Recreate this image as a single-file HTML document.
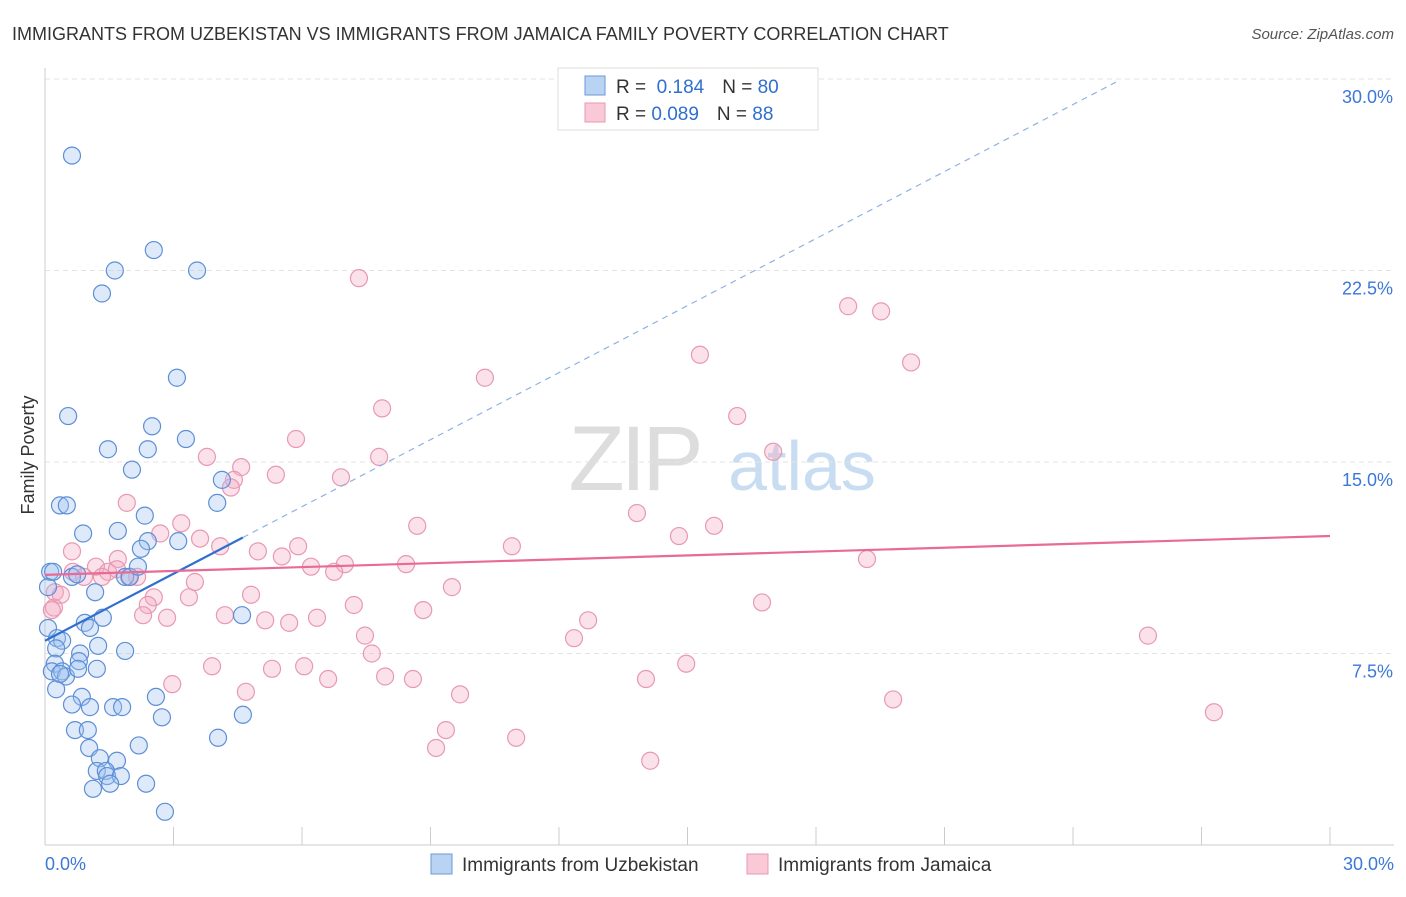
<!DOCTYPE html>
<html><head><meta charset="utf-8">
<style>
body{margin:0;background:#fff;font-family:"Liberation Sans",sans-serif;}
svg text{font-family:"Liberation Sans",sans-serif;}
</style></head>
<body>
<svg id="chart" width="1406" height="892" viewBox="0 0 1406 892" xmlns="http://www.w3.org/2000/svg">
<text x="12" y="40" font-size="18" fill="#333">IMMIGRANTS FROM UZBEKISTAN VS IMMIGRANTS FROM JAMAICA FAMILY POVERTY CORRELATION CHART</text>
<text x="1394" y="39" font-size="15" fill="#555" text-anchor="end" font-style="italic">Source: ZipAtlas.com</text>
<text x="34" y="455" font-size="18" fill="#333" text-anchor="middle" transform="rotate(-90 34 455)">Family Poverty</text>
<g>
<text x="634" y="490" font-size="92" fill="#ddd" text-anchor="middle" font-family="Liberation Serif" letter-spacing="-4">ZIP</text>
<text x="802" y="490" font-size="70" fill="#c8dcf2" text-anchor="middle">atlas</text>
</g>
<g id="grid"></g>
<g id="axes"></g>
<g id="marks"></g>
<g>
<rect x="558" y="68" width="260" height="62" fill="#fff" stroke="#ddd"/>
<rect x="585" y="76" width="20" height="19" fill="#b9d3f3" stroke="#6a9ad8"/>
<rect x="585" y="103" width="20" height="19" fill="#f9c9d7" stroke="#e899b2"/>
<text x="616" y="93" font-size="19" fill="#333">R = <tspan fill="#2f6fd0">&#160;0.184</tspan><tspan dx="18">N = </tspan><tspan fill="#2f6fd0">80</tspan></text>
<text x="616" y="120" font-size="19" fill="#333">R = <tspan fill="#2f6fd0">0.089</tspan><tspan dx="18">N = </tspan><tspan fill="#2f6fd0">88</tspan></text>
</g>
<g>
<rect x="431" y="854" width="21" height="20" fill="#b9d3f3" stroke="#6a9ad8"/>
<text x="462" y="871" font-size="19" fill="#333">Immigrants from Uzbekistan</text>
<rect x="747" y="854" width="21" height="20" fill="#f9c9d7" stroke="#e899b2"/>
<text x="778" y="871" font-size="19" fill="#333">Immigrants from Jamaica</text>
</g>
</svg>
<script>
const blueX=[0.63,2.54,1.63,3.55,1.33,3.08,0.54,2.50,1.47,2.40,3.29,2.03,4.13,4.02,0.35,0.51,2.33,0.89,1.70,2.40,2.24,3.11,0.12,0.63,0.75,1.87,1.98,2.17,1.17,0.07,1.35,0.93,1.05,4.60,0.07,0.28,0.40,1.24,0.26,1.87,0.82,0.79,0.23,0.16,0.40,0.49,1.21,0.77,0.26,0.86,2.59,0.63,1.05,1.59,1.80,2.73,4.62,0.70,1.00,4.04,2.19,1.03,1.28,1.68,1.21,1.42,1.45,1.77,1.52,1.12,2.36,2.80,0.19,0.35];
const blueY=[27.0,23.3,22.5,22.5,21.6,18.3,16.8,16.4,15.5,15.5,15.9,14.7,14.3,13.4,13.3,13.3,12.9,12.2,12.3,11.9,11.6,11.9,10.7,10.5,10.6,10.5,10.5,10.9,9.9,10.1,8.9,8.7,8.5,9.0,8.5,8.1,8.0,7.8,7.7,7.6,7.5,7.2,7.1,6.8,6.8,6.6,6.9,6.9,6.1,5.8,5.8,5.5,5.4,5.4,5.4,5.0,5.1,4.5,4.5,4.2,3.9,3.8,3.4,3.3,2.9,2.9,2.7,2.7,2.4,2.2,2.4,1.3,10.7,6.7];
const pinkX=[7.33,18.75,19.52,15.29,20.22,10.27,7.87,16.16,5.86,17.00,3.78,7.80,4.58,5.39,4.41,4.34,6.91,1.91,13.82,8.69,15.62,3.18,2.69,14.80,3.62,10.90,0.63,4.09,5.91,4.97,1.70,5.53,7.00,8.43,19.19,6.21,1.19,0.65,0.91,6.75,1.47,1.68,1.96,1.33,2.15,3.50,0.23,0.37,4.81,3.36,2.54,2.40,7.21,9.50,16.74,0.21,0.16,8.83,2.29,4.20,2.85,5.14,6.35,5.70,12.68,7.47,12.35,25.75,7.63,3.90,6.05,14.97,5.30,6.61,7.94,8.59,14.03,2.97,4.69,9.69,19.80,27.29,9.36,11.00,9.13,14.13];
const pinkY=[22.2,21.1,20.9,19.2,18.9,18.3,17.1,16.8,15.9,15.4,15.2,15.2,14.8,14.5,14.3,14.0,14.4,13.4,13.0,12.5,12.5,12.6,12.2,12.1,12.0,11.7,11.5,11.7,11.7,11.5,11.2,11.3,11.0,11.0,11.2,10.9,10.9,10.7,10.5,10.7,10.7,10.8,10.5,10.5,10.5,10.3,9.9,9.8,9.8,9.7,9.7,9.4,9.4,10.1,9.5,9.3,9.2,9.2,9.0,9.0,8.9,8.8,8.9,8.7,8.8,8.2,8.1,8.2,7.5,7.0,7.0,7.1,6.9,6.5,6.6,6.5,6.5,6.3,6.0,5.9,5.7,5.2,4.5,4.2,3.8,3.3];
const blueTrend=[8.0,0.875];
const pinkTrend=[10.58,0.0507];
const yTicks=[7.5,15,22.5,30];
const yTickLabels=["7.5%","15.0%","22.5%","30.0%"];
const xTicks=[0,3,6,9,12,15,18,21,24,27,30];

const NS="http://www.w3.org/2000/svg";
const X=v=>45+v*(1285/30);
const Y=v=>845-v*(766/30);
function mk(tag,attrs,parent){const e=document.createElementNS(NS,tag);for(const k in attrs)e.setAttribute(k,attrs[k]);parent.appendChild(e);return e;}
const grid=document.getElementById('grid'),axes=document.getElementById('axes'),marks=document.getElementById('marks');
yTicks.forEach((t,i)=>{
  const l=mk('line',{x1:45,x2:1394,y1:Y(t),y2:Y(t),stroke:'#e3e3e3','stroke-dasharray':'5,4'},grid);
  
  
  const tx=mk('text',{x:1393,y:Y(t)+24,'font-size':18,fill:'#3b78d8','text-anchor':'end'},axes);
  tx.textContent=yTickLabels[i];
  
  
});
const xa=mk('line',{x1:45,x2:1394,y1:845,y2:845,stroke:'#ccc'},axes);


const ya=mk('line',{x1:45,x2:45,y1:68,y2:845,stroke:'#ccc'},axes);


xTicks.forEach(t=>{
  const l=mk('line',{x1:X(t),x2:X(t),y1:827,y2:845,stroke:'#ccc'},axes);
  
  
});
const xl0=mk('text',{x:45,y:870,'font-size':18,fill:'#3b78d8'},axes);
xl0.textContent="0.0%";


const xl1=mk('text',{x:1394,y:870,'font-size':18,fill:'#3b78d8','text-anchor':'end'},axes);
xl1.textContent="30.0%";



pinkX.forEach((x,i)=>{
  const c=mk('circle',{cx:X(x),cy:Y(pinkY[i]),r:8.5,fill:'rgba(244,170,195,0.35)',stroke:'#e899b2','stroke-width':1.2},marks);
  
  
});
blueX.forEach((x,i)=>{
  const c=mk('circle',{cx:X(x),cy:Y(blueY[i]),r:8.5,fill:'rgba(160,195,240,0.35)',stroke:'#5d8fd6','stroke-width':1.2},marks);
  
  
});
const bxMax=Math.max(...blueX);
const bd=mk('line',{x1:X(bxMax),y1:Y(blueTrend[0]+blueTrend[1]*bxMax),x2:X(25),y2:Y(blueTrend[0]+blueTrend[1]*25),stroke:'#8fb2e3','stroke-width':1.2,'stroke-dasharray':'6,5'},marks);


const bs=mk('line',{x1:X(0),y1:Y(blueTrend[0]),x2:X(bxMax),y2:Y(blueTrend[0]+blueTrend[1]*bxMax),stroke:'#2f6fd0','stroke-width':2.2},marks);


const ps=mk('line',{x1:X(0),y1:Y(pinkTrend[0]),x2:X(30),y2:Y(pinkTrend[0]+pinkTrend[1]*30),stroke:'#e86a96','stroke-width':2.2},marks);


</script>
</body></html>
